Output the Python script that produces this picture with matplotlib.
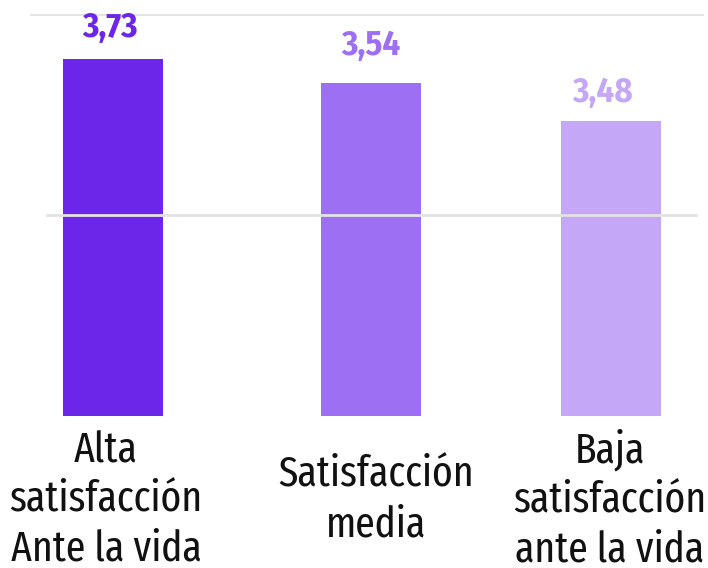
import matplotlib
matplotlib.use("Agg")
import matplotlib.pyplot as plt
import matplotlib.transforms as mtransforms

# ---- data ----
categories = ["Alta\nsatisfacción\nAnte la vida", "Satisfacción\nmedia", "Baja\nsatisfacción\nante la vida"]
bar_values = [3.55, 3.31, 2.94]          # bar heights as drawn
value_labels = ["3,73", "3,54", "3,48"]  # printed labels
grid_values = [2, 4]

# ---- style / layout ----
colors = ["#6c26ea", "#9d6ff2", "#c4a8f7"]
positions = [0.0, 1.0, 1.925]
bar_width = 0.387
label_dy_px = [22, 28, 19]
label_dx_px = [-3, -1, -8]
cat_dx_px = [-7, 5, -1]

W, H = 708, 568
fig = plt.figure(figsize=(W / 100, H / 100), dpi=100)
ax = fig.add_axes([0, (H - 416) / H, 1, 402 / H])
ax.set_xlim(-0.437, 2.302)
ax.set_ylim(0, 4)
ax.axis("off")

ax.bar(positions, bar_values, width=bar_width, color=colors, zorder=2)

# gridlines (drawn over bars)
grid_extent = {2: (46.5 / W, 695.7 / W), 4: (31 / W, 701.5 / W)}
for g in grid_values:
    x0, x1 = grid_extent[g]
    ax.axhline(g, xmin=x0, xmax=x1, color="#e2e2e2", lw=2, zorder=3)

vfont = dict(family=["Fira Sans Condensed", "DejaVu Sans"], fontweight="bold", fontsize=25)
for x, v, lab, c, dy, dx in zip(positions, bar_values, value_labels, colors, label_dy_px, label_dx_px):
    tr = ax.transData + mtransforms.ScaledTranslation(dx / 100, dy / 100, fig.dpi_scale_trans)
    ax.text(x, v, lab, color=c, ha="center", va="baseline", transform=tr, **vfont)

cfont = dict(family=["Fira Sans Extra Condensed", "DejaVu Sans"], fontsize=31)
blend = mtransforms.blended_transform_factory(ax.transData, fig.transFigure)
for x, cat, dx in zip(positions, categories, cat_dx_px):
    tr = blend + mtransforms.ScaledTranslation(dx / 100, 0, fig.dpi_scale_trans)
    ax.text(x, (H - 500) / H, cat, ha="center", va="center", color="#111111",
            linespacing=1.26, transform=tr, **cfont)

fig.savefig("out.png", dpi=100)
